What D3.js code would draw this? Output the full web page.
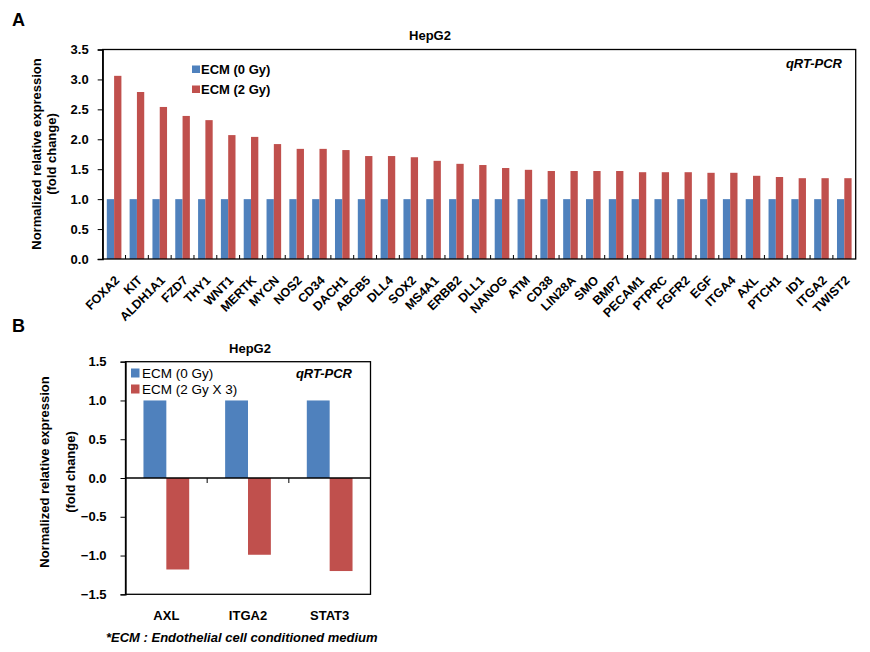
<!DOCTYPE html>
<html><head><meta charset="utf-8">
<script src="https://cdn.jsdelivr.net/npm/d3@7"></script>
<style>
html,body{margin:0;padding:0;background:#fff;}
svg{display:block;font-family:"Liberation Sans",Arial,sans-serif;}
</style></head>
<body>
<svg id="chart" width="870" height="652"></svg>
<script>
// ---------- Data ----------
const genesA = ["FOXA2","KIT","ALDH1A1","FZD7","THY1","WNT1","MERTK","MYCN","NOS2","CD34","DACH1","ABCB5","DLL4","SOX2","MS4A1","ERBB2","DLL1","NANOG","ATM","CD38","LIN28A","SMO","BMP7","PECAM1","PTPRC","FGFR2","EGF","ITGA4","AXL","PTCH1","ID1","ITGA2","TWIST2"];
const ecm0A = [1.0,1.0,1.0,1.0,1.0,1.0,1.0,1.0,1.0,1.0,1.0,1.0,1.0,1.0,1.0,1.0,1.0,1.0,1.0,1.0,1.0,1.0,1.0,1.0,1.0,1.0,1.0,1.0,1.0,1.0,1.0,1.0,1.0];
const ecm2A = [3.06,2.79,2.54,2.39,2.32,2.07,2.04,1.92,1.84,1.84,1.82,1.72,1.72,1.70,1.64,1.59,1.57,1.52,1.49,1.47,1.47,1.47,1.47,1.45,1.45,1.45,1.44,1.44,1.39,1.37,1.35,1.35,1.35];
const yTicksA = [0.0,0.5,1.0,1.5,2.0,2.5,3.0,3.5];
const seriesA = ["ECM (0 Gy)","ECM (2 Gy)"];

const genesB = ["AXL","ITGA2","STAT3"];
const ecm0B = [1.0,1.0,1.0];
const ecm2x3B = [-1.18,-0.99,-1.20];
const yTicksB = [-1.5,-1.0,-0.5,0.0,0.5,1.0,1.5];
const seriesB = ["ECM (0 Gy)","ECM (2 Gy X 3)"];

const BLUE = "#4F81BD", RED = "#C0504D";
const svg = d3.select("#chart");
const fmt = d3.format(".1f");

// ---------- Panel A ----------
(function(){
  const L = 102.7, R = 855.7, T = 49.5, B = 259;
  const x = d3.scaleBand().domain(genesA).range([L, R]).padding(0);
  const y = d3.scaleLinear().domain([0, 3.5]).range([B, T]);
  const bw = x.bandwidth() * 0.32;
  const g = svg.append("g");

  svg.append("text").attr("x", 12).attr("y", 26).attr("font-size", 18).attr("font-weight", "bold").text("A");
  g.append("text").attr("x", 430).attr("y", 40).attr("text-anchor", "middle")
    .attr("font-size", 13).attr("font-weight", "bold").text("HepG2");

  g.selectAll("rect.b0").data(genesA).join("rect")
    .attr("x", d => x(d) + x.bandwidth()/2 - bw).attr("width", bw)
    .attr("y", (d,i) => y(ecm0A[i])).attr("height", (d,i) => y(0) - y(ecm0A[i]))
    .attr("fill", BLUE);
  g.selectAll("rect.b1").data(genesA).join("rect")
    .attr("x", d => x(d) + x.bandwidth()/2).attr("width", bw)
    .attr("y", (d,i) => y(ecm2A[i])).attr("height", (d,i) => y(0) - y(ecm2A[i]))
    .attr("fill", RED);

  g.append("rect").attr("x", L).attr("y", T).attr("width", R-L).attr("height", B-T)
    .attr("fill", "none").attr("stroke", "#000").attr("stroke-width", 1.3);

  const ya = g.append("g").attr("transform", `translate(${L},0)`)
    .call(d3.axisLeft(y).tickValues(yTicksA).tickFormat(fmt).tickSize(5).tickPadding(9));
  ya.select(".domain").attr("stroke", "#000").attr("stroke-width", 1.3);
  ya.selectAll("text").attr("font-size", 13).attr("font-weight", "bold").attr("fill", "#000")
    .attr("font-family", "Liberation Sans, Arial, sans-serif");

  g.selectAll("line.xt").data(genesA.slice(1)).join("line")
    .attr("x1", d => x(d)).attr("x2", d => x(d)).attr("y1", B).attr("y2", B-4)
    .attr("stroke", "#000").attr("stroke-width", 1);

  g.selectAll("text.xl").data(genesA).join("text")
    .attr("transform", d => `translate(${x(d) + x.bandwidth()/2 + 3},${B + 19}) rotate(-45)`)
    .attr("text-anchor", "end").attr("dy", "0.35em")
    .attr("font-size", 12.5).attr("font-weight", "bold").text(d => d);

  const yt = g.append("text").attr("transform", `translate(41,154) rotate(-90)`)
    .attr("text-anchor", "middle").attr("font-size", 13).attr("font-weight", "bold");
  yt.append("tspan").attr("x", 0).attr("y", 0).text("Normalized relative expression");
  yt.append("tspan").attr("x", 0).attr("y", 15).text("(fold change)");

  const lg = g.append("g");
  [BLUE, RED].forEach((c, i) => {
    lg.append("rect").attr("x", 192).attr("y", 65.5 + i*20).attr("width", 8).attr("height", 7.5).attr("fill", c);
    lg.append("text").attr("x", 201).attr("y", 74 + i*20).attr("font-size", 13).attr("font-weight", "bold").text(seriesA[i]);
  });
  g.append("text").attr("x", 842).attr("y", 68).attr("text-anchor", "end")
    .attr("font-size", 13).attr("font-weight", "bold").attr("font-style", "italic").text("qRT-PCR");
})();

// ---------- Panel B ----------
(function(){
  const L = 125.5, R = 370.5, T = 361.7, B = 594.3;
  const x = d3.scaleBand().domain(genesB).range([L, R]).padding(0);
  const y = d3.scaleLinear().domain([-1.5, 1.5]).range([B, T]);
  const bw = x.bandwidth() * 0.28;
  const g = svg.append("g");

  svg.append("text").attr("x", 12).attr("y", 332).attr("font-size", 18).attr("font-weight", "bold").text("B");
  g.append("text").attr("x", 250).attr("y", 352.5).attr("text-anchor", "middle")
    .attr("font-size", 13).attr("font-weight", "bold").text("HepG2");

  g.selectAll("rect.b0").data(genesB).join("rect")
    .attr("x", d => x(d) + x.bandwidth()/2 - bw).attr("width", bw)
    .attr("y", (d,i) => y(Math.max(0, ecm0B[i]))).attr("height", (d,i) => Math.abs(y(ecm0B[i]) - y(0)))
    .attr("fill", BLUE);
  g.selectAll("rect.b1").data(genesB).join("rect")
    .attr("x", d => x(d) + x.bandwidth()/2).attr("width", bw)
    .attr("y", (d,i) => y(Math.max(0, ecm2x3B[i]))).attr("height", (d,i) => Math.abs(y(ecm2x3B[i]) - y(0)))
    .attr("fill", RED);

  g.append("rect").attr("x", L).attr("y", T).attr("width", R-L).attr("height", B-T)
    .attr("fill", "none").attr("stroke", "#000").attr("stroke-width", 1.3);

  const ya = g.append("g").attr("transform", `translate(${L},0)`)
    .call(d3.axisLeft(y).tickValues(yTicksB).tickFormat(fmt).tickSize(5).tickPadding(14));
  ya.select(".domain").attr("stroke", "#000").attr("stroke-width", 1.3);
  ya.selectAll("text").attr("font-size", 13).attr("font-weight", "bold").attr("fill", "#000")
    .attr("font-family", "Liberation Sans, Arial, sans-serif");

  g.append("line").attr("x1", L).attr("x2", R).attr("y1", y(0)).attr("y2", y(0))
    .attr("stroke", "#000").attr("stroke-width", 1.3);
  g.selectAll("line.xt").data(genesB.slice(1)).join("line")
    .attr("x1", d => x(d)).attr("x2", d => x(d)).attr("y1", y(0)).attr("y2", y(0) + 5)
    .attr("stroke", "#000").attr("stroke-width", 1);

  g.selectAll("text.xl").data(genesB).join("text")
    .attr("x", d => x(d) + x.bandwidth()/2).attr("y", 620).attr("text-anchor", "middle")
    .attr("font-size", 13).attr("font-weight", "bold").text(d => d);

  const yt = g.append("text").attr("transform", `translate(49,472) rotate(-90)`)
    .attr("text-anchor", "middle").attr("font-size", 13).attr("font-weight", "bold");
  yt.append("tspan").attr("x", 0).attr("y", 0).text("Normalized relative expression");
  yt.append("tspan").attr("x", 0).attr("y", 26).text("(fold change)");

  [BLUE, RED].forEach((c, i) => {
    g.append("rect").attr("x", 131).attr("y", 368.5 + i*16).attr("width", 8.5).attr("height", 9).attr("fill", c);
    g.append("text").attr("x", 142).attr("y", 378 + i*16).attr("font-size", 13.5).text(seriesB[i]);
  });
  g.append("text").attr("x", 352).attr("y", 378).attr("text-anchor", "end")
    .attr("font-size", 13).attr("font-weight", "bold").attr("font-style", "italic").text("qRT-PCR");

  svg.append("text").attr("x", 106).attr("y", 642).attr("font-size", 13)
    .attr("font-weight", "bold").attr("font-style", "italic").text("*ECM : Endothelial cell conditioned medium");
})();
</script>
</body></html>
